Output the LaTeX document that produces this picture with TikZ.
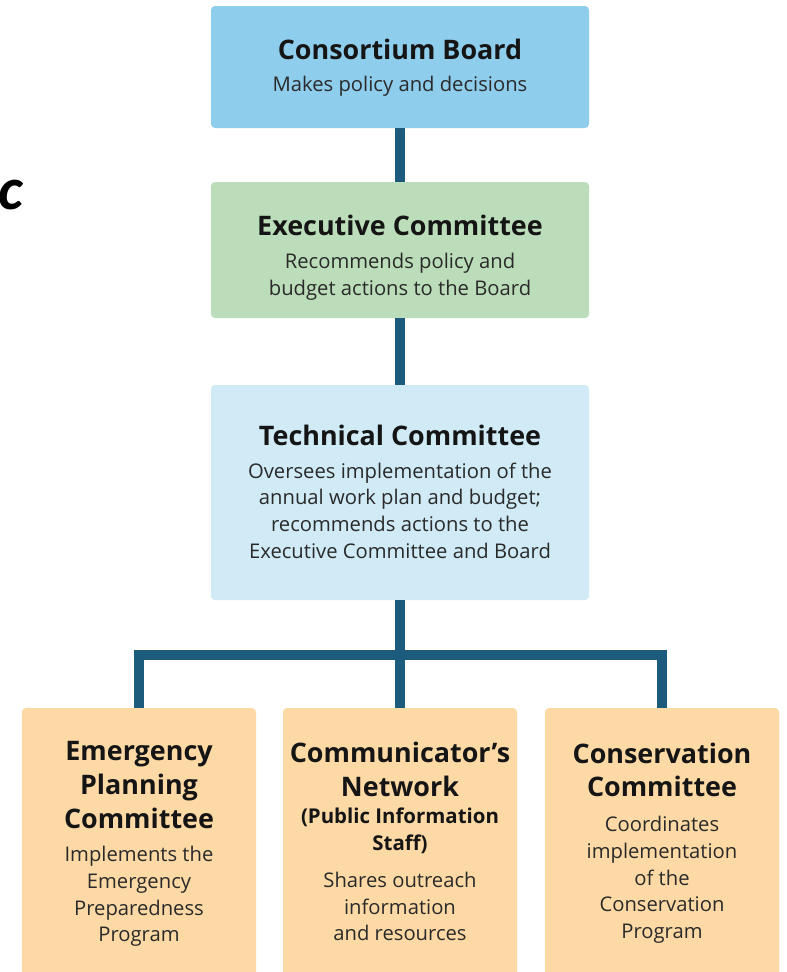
\documentclass[tikz,border=0pt]{standalone}
\usepackage{fontspec}
\setmainfont{Open Sans}
\newfontfamily\strayfont{Carlito}
\definecolor{cboard}{HTML}{8ECDEC}
\definecolor{cexec}{HTML}{BCDDB9}
\definecolor{ctech}{HTML}{D0EAF6}
\definecolor{cunit}{HTML}{FDD9A5}
\definecolor{cconn}{HTML}{1D5B7C}
\definecolor{ctitle}{HTML}{151515}
\definecolor{cbody}{HTML}{2A2A2A}
\begin{document}
\begin{tikzpicture}[x=1bp,y=-1bp,
  box/.style={rounded corners=4bp, draw=none, inner sep=0pt},
  ttl/.style={font=\bfseries\fontsize{27}{33.8}\selectfont, text=ctitle, align=center, inner sep=0pt},
  sub/.style={font=\bfseries\fontsize{20.5}{27}\selectfont, text=ctitle, align=center, inner sep=0pt},
  bdy/.style={font=\fontsize{20.3}{26.8}\selectfont, text=cbody, align=center, inner sep=0pt},
  conn/.style={draw=cconn, line width=10bp, line join=miter}]
\useasboundingbox (0,0) rectangle (787,972);
\clip (0,0) rectangle (787,972);
\fill[white] (0,0) rectangle (787,972);

% boxes
\node[box, fill=cboard, minimum width=378bp, minimum height=122bp] (board) at (400,67) {};
\node[box, fill=cexec, minimum width=378bp, minimum height=136bp] (exec) at (400,250) {};
\node[box, fill=ctech, minimum width=378bp, minimum height=215bp] (tech) at (400,492.5) {};
\node[box, fill=cunit, minimum width=234bp, minimum height=280bp] (epc) at (139,848) {};
\node[box, fill=cunit, minimum width=234bp, minimum height=280bp] (comm) at (400,848) {};
\node[box, fill=cunit, minimum width=234bp, minimum height=280bp] (cons) at (662,848) {};

% connectors
\coordinate (hub) at (400,655);
\draw[conn] (board.south) -- (exec.north);
\draw[conn] (exec.south) -- (tech.north);
\draw[conn] (tech.south) -- (hub);
\draw[conn] (epc.north) |- (hub) -| (cons.north);
\draw[conn] (hub) -- (comm.north);

% texts
\node[ttl] (t1) at (400,49) {Consortium Board};
\node[bdy] (b1) at (400,86) {Makes policy and decisions};
\node[ttl] (t2) at (400,225) {Executive Committee};
\node[bdy] (b2) at (400,276.5) {Recommends policy and\\budget actions to the Board};
\node[ttl] (t3) at (400,435) {Technical Committee};
\node[bdy] (b3) at (400,510.5) {Oversees implementation of the\\annual work plan and budget;\\recommends actions to the\\Executive Committee and Board};

\node[ttl] (t4) at (139,785) {Emergency\\Planning\\Committee};
\node[bdy] (b4) at (139,896.5) {Implements the\\Emergency\\Preparedness\\Program};

\node[ttl] (t5) at (400,769.5) {Communicator's\\Network};
\node[sub] (s5) at (400,830.5) {(Public Information\\Staff)};
\node[bdy] (b5) at (400,906.5) {Shares outreach\\information\\and resources};

\node[ttl] (t6) at (662,770) {Conservation\\Committee};
\node[bdy] (b6) at (662,880) {Coordinates\\implementation\\of the\\Conservation\\Program};

% stray clipped letter at left margin
\begin{scope}
\clip (0,150) rectangle (22,230);
\node[font=\strayfont\bfseries\itshape\fontsize{60}{62}\selectfont, text=black, inner sep=0pt, anchor=base west] (stray) at (-2,209) {c};
\end{scope}
\end{tikzpicture}
\end{document}
